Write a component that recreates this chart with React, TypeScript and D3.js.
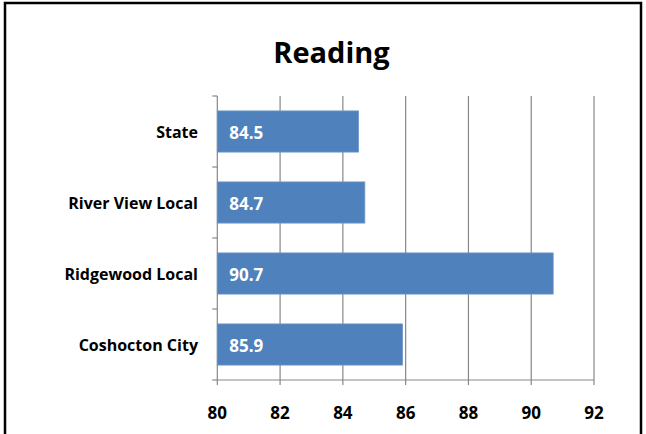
import React from "react";
import * as d3 from "d3";

const categories = ["State", "River View Local", "Ridgewood Local", "Coshocton City"];
const readingScores = [84.5, 84.7, 90.7, 85.9];
const xTicks = [80, 82, 84, 86, 88, 90, 92];

const width = 646;
const height = 434;
const font = "'Open Sans', Lato, sans-serif";

const App: React.FC = () => {
  const left = 217.3;
  const right = 594;
  const top = 96;
  const bottom = 380;

  const x = d3.scaleLinear().domain([80, 92]).range([left, right]);
  const y = d3
    .scaleBand<string>()
    .domain(categories)
    .range([top, bottom])
    .paddingInner(0.42)
    .paddingOuter(0.21);

  const step = y.step();

  return (
    <svg
      width={width}
      height={height}
      style={{ position: "absolute", left: 0, top: 0, background: "#fff" }}
    >
      {/* outer chart border */}
      <rect x={5} y={3} width={636} height={460} fill="none" stroke="#000" strokeWidth={2.5} />

      <text
        x={331.5}
        y={63}
        textAnchor="middle"
        fontFamily={font}
        fontWeight="bold"
        fontSize={29}
      >
        Reading
      </text>

      {/* vertical gridlines */}
      {xTicks.slice(1).map((t) => (
        <line key={"g" + t} x1={x(t)} x2={x(t)} y1={top} y2={bottom} stroke="#878787" strokeWidth={1.2} />
      ))}

      {/* bars */}
      {categories.map((c, i) => (
        <rect
          key={c}
          x={x(80)}
          y={y(c)!}
          width={x(readingScores[i]) - x(80)}
          height={y.bandwidth()}
          fill="#4F81BD"
          stroke="#6f97c9"
          strokeWidth={0.8}
        />
      ))}

      {/* bar value labels */}
      {categories.map((c, i) => (
        <text
          key={"v" + c}
          x={x(80) + 12}
          y={y(c)! + y.bandwidth() / 2 + 7}
          fill="#fff"
          fontFamily={font}
          fontWeight="bold"
          fontSize={17}
        >
          {readingScores[i].toFixed(1)}
        </text>
      ))}

      {/* category axis */}
      <line x1={x(80)} x2={x(80)} y1={top} y2={bottom} stroke="#878787" strokeWidth={1.2} />
      {d3.range(categories.length + 1).map((k) => (
        <line
          key={"ct" + k}
          x1={x(80) - 5}
          x2={x(80)}
          y1={top + k * step}
          y2={top + k * step}
          stroke="#878787"
          strokeWidth={1.2}
        />
      ))}
      {categories.map((c) => (
        <text
          key={"cl" + c}
          x={198}
          y={y(c)! + y.bandwidth() / 2 + 6.5}
          textAnchor="end"
          fontFamily={font}
          fontWeight="bold"
          fontSize={16}
        >
          {c}
        </text>
      ))}

      {/* value axis */}
      <line x1={x(80)} x2={x(92)} y1={bottom} y2={bottom} stroke="#878787" strokeWidth={1.2} />
      {xTicks.map((t) => (
        <g key={"xt" + t}>
          <line x1={x(t)} x2={x(t)} y1={bottom} y2={bottom + 5} stroke="#878787" strokeWidth={1.2} />
          <text
            x={x(t)}
            y={419}
            textAnchor="middle"
            fontFamily={font}
            fontWeight="bold"
            fontSize={17}
          >
            {t}
          </text>
        </g>
      ))}
    </svg>
  );
};

export default App;
